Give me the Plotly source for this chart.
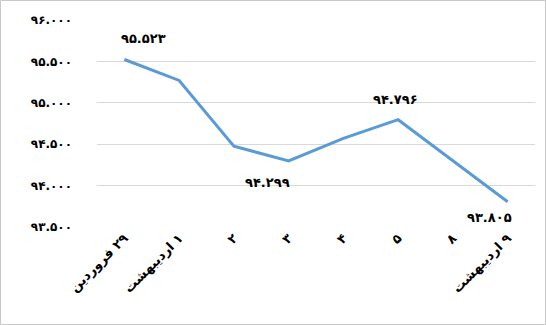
import plotly.graph_objects as go

categories = ["\u200f۲۹ فروردین", "\u200f۱ اردیبهشت", "۲", "۳", "۴", "۵", "۸", "\u200f۹ اردیبهشت"]
values = [95523, 95270, 94475, 94299, 94570, 94796, 94300, 93805]
point_labels = ["۹۵.۵۲۳", None, None, "۹۴.۲۹۹", None, "۹۴.۷۹۶", None, "۹۳.۸۰۵"]
label_shift = [(19, 21), None, None, (-21, -22), None, (-3, 20), None, (-18, -16)]
ytick_vals = [93500, 94000, 94500, 95000, 95500, 96000]
ytick_text = ["۹۳.۵۰۰", "۹۴.۰۰۰", "۹۴.۵۰۰", "۹۵.۰۰۰", "۹۵.۵۰۰", "۹۶.۰۰۰"]

FONT = "DejaVu Sans"

fig = go.Figure()
fig.add_trace(go.Scatter(
    x=categories, y=values, mode="lines",
    line=dict(color="#5b9bd5", width=3),
    showlegend=False, hoverinfo="skip",
))

for c, v, t, s in zip(categories, values, point_labels, label_shift):
    if t is None:
        continue
    fig.add_annotation(
        x=c, y=v, text=t, showarrow=False, xshift=s[0], yshift=s[1],
        font=dict(family=FONT, size=13, color="#000000", weight="bold"),
    )

W, H = 546, 325
ml, mr, mt, mb = 97, 11, 20, 98
pw = W - ml - mr
ph = H - mt - mb

fig.add_shape(
    type="rect", xref="paper", yref="paper",
    x0=(0.5 - ml) / pw, x1=(W - 0.5 - ml) / pw,
    y0=-(mb - 0.5) / ph,
    y1=(H - mb - 0.5) / ph,
    line=dict(color="#c8c8c8", width=1), fillcolor="rgba(0,0,0,0)",
)

fig.update_layout(
    width=W, height=H,
    margin=dict(l=ml, r=mr, t=mt, b=mb),
    paper_bgcolor="white", plot_bgcolor="white",
    xaxis=dict(
        type="category", tickangle=-45, showgrid=False, showline=False,
        ticks="", zeroline=False, range=[-0.5, len(categories) - 0.5],
        tickfont=dict(family=FONT, size=13, color="#000000", weight="bold"),
    ),
    yaxis=dict(
        range=[93500, 96000], tickvals=ytick_vals, ticktext=ytick_text,
        showgrid=True, gridcolor="#d9d9d9", gridwidth=1, zeroline=False,
        showline=False, ticks="", ticklabelstandoff=24,
        tickfont=dict(family=FONT, size=12, color="#000000", weight="bold"),
    ),
)

fig.write_html("out.html")
